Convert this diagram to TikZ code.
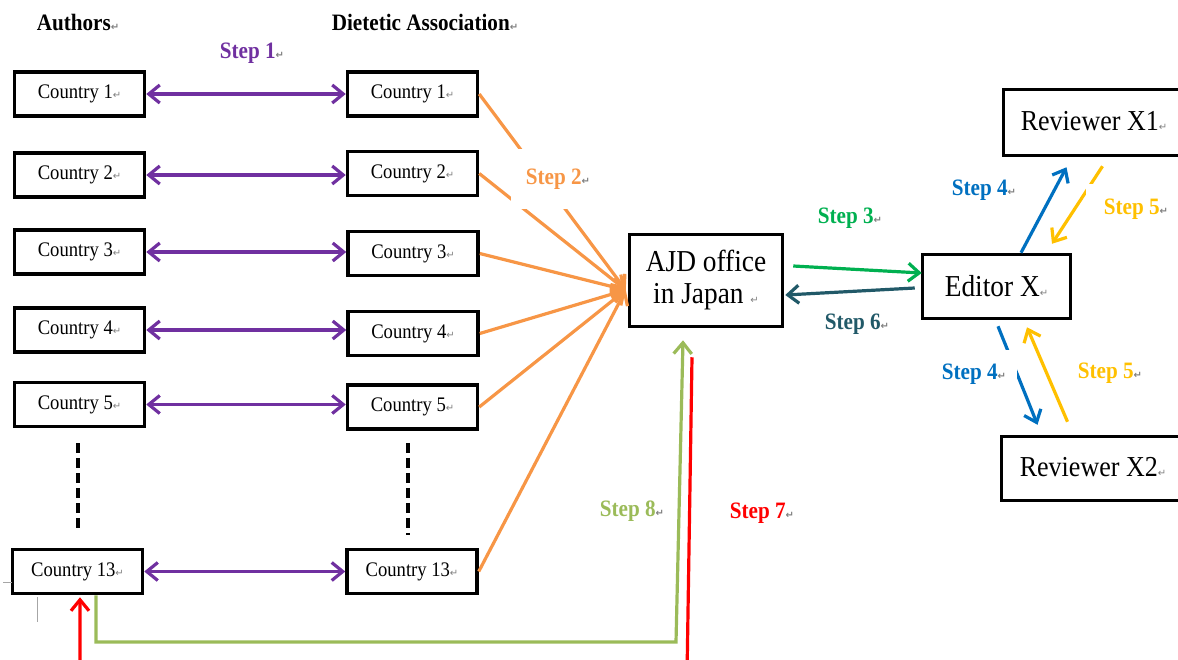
\documentclass[tikz,border=0pt]{standalone}
\usepackage{fontspec}
\setmainfont{Liberation Serif}[FakeStretch=0.9]
\newfontfamily\symfont{DejaVu Sans}
\usetikzlibrary{arrows.meta,calc}
\definecolor{cPurple}{HTML}{7030A0}
\definecolor{cOrange}{HTML}{F79646}
\definecolor{cGreen}{HTML}{00B050}
\definecolor{cTeal}{HTML}{215968}
\definecolor{cBlue}{HTML}{0070C0}
\definecolor{cYellow}{HTML}{FFC000}
\definecolor{cLime}{HTML}{9BBB59}
\definecolor{cRed}{HTML}{FF0000}
\definecolor{cMark}{HTML}{808080}
\newcommand\rmk{{\symfont\fontsize{10}{10}\selectfont\color{cMark}↵}}
\begin{document}
\begin{tikzpicture}[x=1pt,y=-1pt,
  box/.style={draw=black, line width=3.5pt, fill=white, inner sep=0pt, align=center},
  cbox/.style={box, minimum width=130pt, minimum height=44pt, font=\fontsize{20.7}{24}\selectfont},
  bigbox/.style={box, font=\fontsize{30.4}{32}\selectfont},
  revbox/.style={box, font=\fontsize{28.9}{31}\selectfont},
  lbl/.style={font=\bfseries\fontsize{23.5}{26}\selectfont, inner sep=2pt},
  barb/.tip={Straight Barb[length=11pt,width=18pt]},
  arr/.style={line width=3.2pt, -barb},
  darr/.style={line width=3.2pt, barb-barb},
  dline/.style={line width=3.2pt, dash pattern=on 10pt off 5pt},
  cropmark/.style={line width=1pt, draw=cMark!70}]
\useasboundingbox (0,0) rectangle (1178,659);
\clip (0,0) rectangle (1178,659);

% headings
\node[lbl] (hA) at (78,22) {Authors\rmk};
\node[lbl] (hD) at (425,22) {Dietetic Association\rmk};

% country boxes
\node[cbox] (L1)  at (79.5,94)    {Country 1\rmk};
\node[cbox] (L2)  at (79.5,175)   {Country 2\rmk};
\node[cbox] (L3)  at (79.5,252)   {Country 3\rmk};
\node[cbox] (L4)  at (79.5,330)   {Country 4\rmk};
\node[cbox] (L5)  at (79.5,404.5) {Country 5\rmk};
\node[cbox] (L13) at (77.5,571.5) {Country 13\rmk};

\node[cbox] (D1)  at (412.5,94)    {Country 1\rmk};
\node[cbox] (D2)  at (412.5,173.5) {Country 2\rmk};
\node[cbox] (D3)  at (413,253.5)   {Country 3\rmk};
\node[cbox] (D4)  at (413,333.5)   {Country 4\rmk};
\node[cbox] (D5)  at (412.5,407)   {Country 5\rmk};
\node[cbox] (D13) at (412,571.5)   {Country 13\rmk};

\node[bigbox, minimum width=153pt, minimum height=92pt] (AJD) at (706,280.5) {AJD office\\in Japan \rmk};
\node[bigbox, minimum width=148pt, minimum height=64pt] (Ed) at (996.5,286.5) {Editor X\rmk};
\node[revbox, minimum width=181pt, minimum height=66pt] (R1) at (1094,122.5) {\raisebox{3pt}{Reviewer X1\rmk}};
\node[revbox, minimum width=183pt, minimum height=64pt] (R2) at (1093,468.5) {\raisebox{3pt}{Reviewer X2\rmk}};

% crop marks
\draw[cropmark] (3,582) -- (12,582);
\draw[cropmark] (37,597) -- (37,622);

% ellipsis dashes
\draw[dline, shorten <=15pt, shorten >=15pt] ($(L5.south -| L13.north)+(0.5,0)$) -- ($(L13.north)+(0.5,0)$);
\draw[dline, shorten <=12pt, shorten >=13pt] ($(D5.south -| D13.north)+(-4,0)$) -- ($(D13.north)+(-4,0)$);

% step 1
\foreach \a/\b in {L1/D1,L2/D2,L3/D3,L4/D4,L5/D5,L13/D13}
  \draw[darr, cPurple] (\a.east) -- (\a.east -| \b.west);

% step 2
\coordinate (hub) at ($(AJD.west)+(-2,9.5)$);
\foreach \d in {D1,D2,D3,D4,D5,D13}
  \draw[arr, cOrange] (\d.east) -- (hub);

% step 3 / 6
\draw[arr, cGreen] ($(AJD.east)+(9,-14.5)$) -- ($(Ed.west)+(1,-13.5)$);
\draw[arr, cTeal] ($(Ed.west)+(-6,1.5)$) -- ($(AJD.east)+(1,14.5)$);

% step 4 / 5
\draw[arr, cBlue] ($(Ed.north)+(24.5,0)$) -- ($(R1.south)+(-27.5,10)$);
\draw[arr, cYellow] ($(R1.south)+(8.5,9)$) -- ($(Ed.north)+(55.5,-9)$);
\draw[arr, cBlue] ($(Ed.south)+(1.5,6)$) -- ($(R2.north)+(-55.5,-10)$);
\draw[arr, cYellow] ($(R2.north)+(-25.5,-13)$) -- ($(Ed.south)+(30.5,7)$);

% step 8
\coordinate (b8) at (676,642);
\draw[arr, cLime, line join=miter] ($(L13.south)+(18.5,0)$) |- (b8) -- ($(AJD.south)+(-23,12)$);

% step 7
\coordinate (b7r) at (687,676);
\coordinate (b7l) at (80,676);
\draw[arr, cRed] ($(AJD.south)+(-14,29)$) -- (b7r) -- (b7l) -- ($(L13.south)+(2.5,2)$);

% labels
\node[lbl, text=cPurple] (s1) at (252,53) {Step 1\rmk};
\node[lbl, text=cOrange, fill=white, minimum width=95pt, minimum height=60pt] (s2) at (558,179) {Step 2\rmk};
\node[lbl, text=cGreen] (s3) at (850,218) {Step 3\rmk};
\node[lbl, text=cTeal] (s6) at (857,324) {Step 6\rmk};
\node[lbl, text=cBlue] (s4u) at (984,190) {Step 4\rmk};
\node[lbl, text=cYellow, fill=white, minimum width=100pt, minimum height=50pt] (s5u) at (1136,209) {Step 5\rmk};
\node[lbl, text=cBlue, fill=white, minimum width=86pt, minimum height=48pt] (s4l) at (974,374) {Step 4\rmk};
\node[lbl, text=cYellow] (s5l) at (1110,373) {Step 5\rmk};
\node[lbl, text=cLime] (s8) at (632,511) {Step 8\rmk};
\node[lbl, text=cRed] (s7) at (762,513) {Step 7\rmk};
\end{tikzpicture}
\end{document}
